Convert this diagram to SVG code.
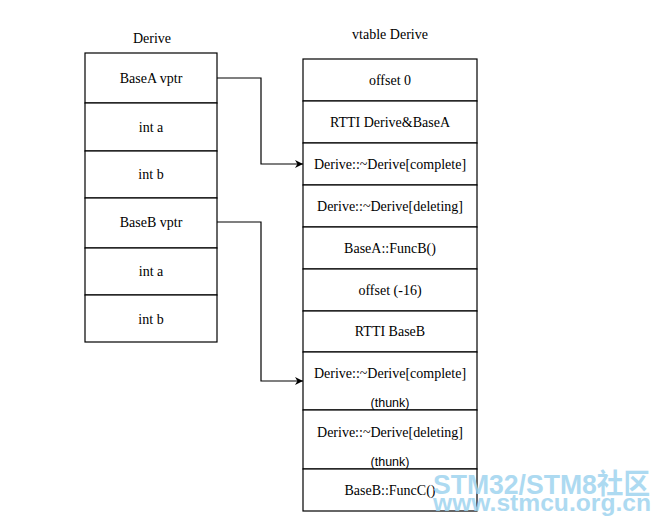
<svg xmlns="http://www.w3.org/2000/svg" width="661" height="527" viewBox="0 0 661 527">
<defs>
<style>
.cell{fill:#ffffff;stroke:#000000;stroke-width:1.2}
.t{font-family:"Liberation Serif","Times New Roman",serif;font-size:14px;fill:#000000;text-anchor:middle}
.s{font-family:"Liberation Sans",Arial,sans-serif;font-size:12.5px;fill:#000000;text-anchor:middle}
.conn{fill:none;stroke:#000000;stroke-width:1.2}
.wm{font-family:"Liberation Sans","Noto Sans CJK SC",sans-serif;font-weight:bold;fill:#9fd4ef;opacity:0.85}
</style>
<marker id="arr" viewBox="0 0 10 10" refX="10" refY="5" markerWidth="8" markerHeight="8" markerUnits="userSpaceOnUse" orient="auto">
<path d="M0,0 L10,5 L0,10 L3,5 Z" fill="#000000"/>
</marker>
</defs>
<rect width="661" height="527" fill="#ffffff"/>
<text class="t" x="152" y="43">Derive</text>
<text class="t" x="390" y="39">vtable Derive</text>
<g id="derive">
<g id="d-basea-vptr"><rect class="cell" x="85" y="53" width="132" height="50"/><text class="t" x="151" y="83">BaseA vptr</text></g>
<g id="d-int-a-1"><rect class="cell" x="85" y="103" width="132" height="48"/><text class="t" x="151" y="132">int a</text></g>
<g id="d-int-b-1"><rect class="cell" x="85" y="151" width="132" height="47"/><text class="t" x="151" y="179">int b</text></g>
<g id="d-baseb-vptr"><rect class="cell" x="85" y="198" width="132" height="50"/><text class="t" x="151" y="227">BaseB vptr</text></g>
<g id="d-int-a-2"><rect class="cell" x="85" y="248" width="132" height="47"/><text class="t" x="151" y="276">int a</text></g>
<g id="d-int-b-2"><rect class="cell" x="85" y="295" width="132" height="47"/><text class="t" x="151" y="324">int b</text></g>
</g>
<g id="vtable">
<g id="v-offset0"><rect class="cell" x="303" y="59" width="174" height="42"/><text class="t" x="390" y="85">offset 0</text></g>
<g id="v-rtti-a"><rect class="cell" x="303" y="101" width="174" height="42"/><text class="t" x="390" y="127">RTTI Derive&amp;BaseA</text></g>
<g id="v-dtor-complete"><rect class="cell" x="303" y="143" width="174" height="42"/><text class="t" x="390" y="169">Derive::~Derive[complete]</text></g>
<g id="v-dtor-deleting"><rect class="cell" x="303" y="185" width="174" height="42"/><text class="t" x="390" y="211">Derive::~Derive[deleting]</text></g>
<g id="v-funcb"><rect class="cell" x="303" y="227" width="174" height="42"/><text class="t" x="390" y="253">BaseA::FuncB()</text></g>
<g id="v-offset16"><rect class="cell" x="303" y="269" width="174" height="42"/><text class="t" x="390" y="295">offset (-16)</text></g>
<g id="v-rtti-b"><rect class="cell" x="303" y="311" width="174" height="41"/><text class="t" x="390" y="336">RTTI BaseB</text></g>
<g id="v-thunk-complete"><rect class="cell" x="303" y="352" width="174" height="58"/><text class="t" x="390" y="378">Derive::~Derive[complete]</text><text class="s" x="390" y="407">(thunk)</text></g>
<g id="v-thunk-deleting"><rect class="cell" x="303" y="410" width="174" height="59"/><text class="t" x="390" y="437">Derive::~Derive[deleting]</text><text class="s" x="390" y="466">(thunk)</text></g>
<g id="v-funcc"><rect class="cell" x="303" y="469" width="174" height="42"/><text class="t" x="390" y="495">BaseB::FuncC()</text></g>
</g>
<g id="connectors">
<path class="conn" d="M217,78 H261 V164 H303" marker-end="url(#arr)"/>
<path class="conn" d="M217,222 H261 V381 H303" marker-end="url(#arr)"/>
</g>
<g id="watermark">
<text class="wm" x="433" y="494" font-size="28" textLength="217" lengthAdjust="spacingAndGlyphs">STM32/STM8社区</text>
<text class="wm" x="433" y="511" font-size="23" textLength="218" lengthAdjust="spacingAndGlyphs">www.stmcu.org.cn</text>
</g>
</svg>
